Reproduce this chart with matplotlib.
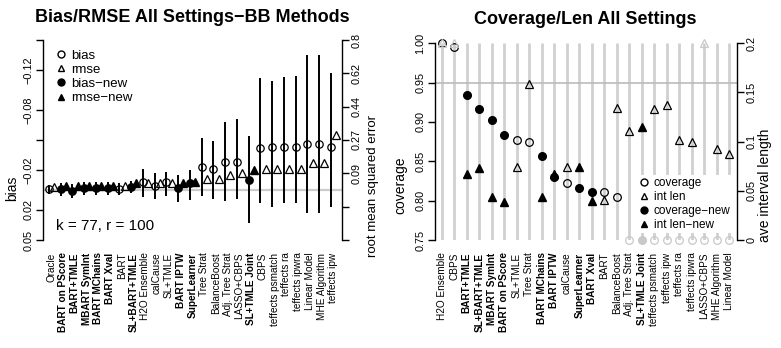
import numpy as np
import matplotlib
matplotlib.use("Agg")
import matplotlib.pyplot as plt

plt.rcParams['font.family'] = ['Liberation Sans', 'DejaVu Sans']
plt.rcParams['axes.unicode_minus'] = True

# ---- bias / rmse per method (left panel)
bb_methods = ["Oracle", "BART on PScore", "BART+TMLE", "MBART SymInt", "BART MChains",
              "BART Xval", "BART", "SL+BART+TMLE", "H2O Ensemble", "calCause", "SL+TMLE",
              "BART IPTW", "SuperLearner", "Tree Strat", "BalanceBoost", "Adj. Tree Strat",
              "LASSO+CBPS", "SL+TMLE Joint", "CBPS", "teffects psmatch", "teffects ra",
              "teffects ipwra", "Linear Model", "MHE Algorithm", "teffects ipw"]
bb_new = [False, True, True, True, True, True, False, True, False, False, False,
          True, True, False, False, False, False, True, False, False, False,
          False, False, False, False]
bias = [-0.0007, -0.0015, 0.0005, -0.0017, -0.0017, -0.0017, -0.0010, -0.0033, -0.0078,
        -0.0038, -0.0078, -0.0020, -0.0070, -0.0230, -0.0208, -0.0278, -0.0278, -0.0100,
        -0.0417, -0.0433, -0.0433, -0.0430, -0.0457, -0.0457, -0.0433]
bias_lo = [-0.0050, -0.0075, -0.0065, -0.0085, -0.0080, -0.0080, -0.0070, -0.0090, -0.0215,
           -0.0173, -0.0183, -0.0150, -0.0205, -0.0522, -0.0493, -0.0683, -0.0710, -0.0537,
           -0.1117, -0.1090, -0.1133, -0.1140, -0.1350, -0.1350, -0.1173]
bias_hi = [0.0040, 0.0055, 0.0080, 0.0050, 0.0050, 0.0050, 0.0050, 0.0030, 0.0067,
           0.0093, 0.0055, 0.0117, 0.0100, 0.0063, 0.0088, 0.0112, 0.0093, 0.0327,
           0.0127, 0.0173, 0.0133, 0.0133, 0.0233, 0.0233, 0.0167]
rmse = [0.0144, 0.0187, 0.0213, 0.0213, 0.0213, 0.0229, 0.0229, 0.0357, 0.0373,
        0.0357, 0.0373, 0.0389, 0.0427, 0.0570, 0.0597, 0.0800, 0.0907, 0.1051,
        0.1120, 0.1120, 0.1120, 0.1120, 0.1420, 0.1420, 0.2930]
bias_ticks = [-0.15, -0.12, -0.08, -0.05, -0.02, 0.02, 0.05]
bias_labels = ["", "−0.12", "−0.08", "", "−0.02", "0.02", "0.05"]

# ---- coverage / interval length per method (right panel)
cov_methods = ["H2O Ensemble", "CBPS", "BART+TMLE", "SL+BART+TMLE", "MBART SymInt",
               "BART on PScore", "SL+TMLE", "Tree Strat", "BART MChains", "BART IPTW",
               "calCause", "SuperLearner", "BART Xval", "BART", "BalanceBoost",
               "Adj. Tree Strat", "SL+TMLE Joint", "teffects psmatch", "teffects ipw",
               "teffects ra", "teffects ipwra", "LASSO+CBPS", "MHE Algorithm", "Linear Model"]
cov_new = [False, False, True, True, True, True, False, False, True, True, False, True,
           True, False, False, False, True, False, False, False, False, False, False, False]
# -inf / inf mark values that fall off the plotted range
coverage = [1.000, 0.995, 0.934, 0.916, 0.9025, 0.884, 0.877, 0.874, 0.857, 0.8305,
            0.823, 0.8165, 0.8106, 0.8106, 0.805, -np.inf, -np.inf, -np.inf, -np.inf,
            -np.inf, -np.inf, -np.inf, -np.inf, -np.inf]
int_len = [np.inf, np.inf, 0.0671, 0.0735, 0.044, 0.039, 0.0746, 0.159, 0.044, 0.067,
           0.0746, 0.0739, 0.0397, 0.0407, 0.134, 0.111, 0.1146, 0.1329, 0.137, 0.1017,
           0.0997, np.inf, 0.0922, 0.0875]

W, H = 781, 348
fig = plt.figure(figsize=(W / 100, H / 100), dpi=100)


def px_axes(x0, y0, x1, y1):
    return fig.add_axes([x0 / W, 1 - y1 / H, (x1 - x0) / W, (y1 - y0) / H])


def style_axis(ax, side):
    for s in ax.spines:
        ax.spines[s].set_visible(s == side)
    ax.spines[side].set_linewidth(1.0)
    ax.tick_params(axis='y', direction='out', length=5, width=1.0, labelsize=7.8,
                   labelrotation=90, pad=2)
    for lab in ax.get_yticklabels():
        lab.set_va('center')


# ================= left panel =================
ax = px_axes(43, 40, 342, 240)
xb = np.arange(1, len(bb_methods) + 1)
ax.set_xlim(0.49, 25.94)
ax.set_ylim(0.05, -0.15)
ax.axhline(0, color='#cccccc', lw=1.6, zorder=0)
ax.vlines(xb, bias_lo, bias_hi, color='black', lw=1.4, zorder=1)
isnew = np.array(bb_new)
ax.plot(xb[~isnew], np.array(bias)[~isnew], 'o', ms=5.3, mfc='none', mec='black', mew=0.9)
ax.plot(xb[isnew], np.array(bias)[isnew], 'o', ms=5.3, mfc='black', mec='black')
ax.set_yticks(bias_ticks)
ax.set_yticklabels(bias_labels)
style_axis(ax, 'left')
ax.set_xticks(xb + 0.2)
ax.set_xticklabels(bb_methods, rotation=90, fontsize=7.2)
ax.tick_params(axis='x', length=0, pad=9)
for lab, n in zip(ax.get_xticklabels(), bb_new):
    lab.set_fontweight('bold' if n else 'normal')
ax.set_ylabel("bias", fontsize=10)
ax.yaxis.set_label_coords(-0.08, 0.26)
ax.text(0.045, 0.05, "k = 77, r = 100", transform=ax.transAxes, fontsize=11)

k = 16 / 3
ax2 = ax.twinx()
ax2.set_ylim(-0.05 * k, 0.15 * k)
rticks = np.linspace(-0.15, 0.05, 7)
ax2.set_yticks(-rticks * k)
ax2.set_yticklabels([f"{round(-t * k, 2):g}" if t < 0 else "" for t in rticks])
style_axis(ax2, 'right')
ax2.plot(xb[~isnew] + 0.43, np.array(rmse)[~isnew], '^', ms=5.3, mfc='none', mec='black', mew=0.9)
ax2.plot(xb[isnew] + 0.43, np.array(rmse)[isnew], '^', ms=5.3, mfc='black', mec='black')
ax2.set_ylabel("root mean squared error", fontsize=9.5)
ax2.yaxis.set_label_coords(1.085, 0.27)

ax.plot([], [], 'o', ms=5, mfc='none', mec='black', label='bias')
ax.plot([], [], '^', ms=5, mfc='none', mec='black', label='rmse')
ax.plot([], [], 'o', ms=5, mfc='black', mec='black', label='bias−new')
ax.plot([], [], '^', ms=5, mfc='black', mec='black', label='rmse−new')
leg_h = ax.get_legend_handles_labels()
ax.legend(leg_h[0][-4:], leg_h[1][-4:], loc='upper left', bbox_to_anchor=(0.02, 0.98),
          frameon=False, fontsize=9.5, handletextpad=0.3, handlelength=1.0,
          labelspacing=0.15, borderaxespad=0)

fig.text(192 / W, 1 - 18 / H, "Bias/RMSE All Settings−BB Methods", ha='center',
         va='center', fontsize=13, fontweight='bold')

# ================= right panel =================
bx = px_axes(435, 43.3, 737, 240)
xc = np.arange(1, len(cov_methods) + 1)
bx.set_xlim(0.46, 24.6)
bx.set_ylim(0.75, 1.0)
bx.vlines(xc, 0.75, 1.0, color='#d0d0d0', lw=2.0, zorder=0)
bx.axhline(0.95, color='#bbbbbb', lw=1.2, zorder=0)
cov = np.array(coverage)
cnew = np.array(cov_new)
cov_in = np.isfinite(cov)
cov_c = np.clip(cov, 0.75, 1.0)
bx.plot(xc[cov_in & ~cnew], cov_c[cov_in & ~cnew], 'o', ms=5.5, mfc='none', mec='black', mew=0.9, clip_on=False)
bx.plot(xc[cov_in & cnew], cov_c[cov_in & cnew], 'o', ms=5.5, mfc='black', mec='black', clip_on=False)
bx.plot(xc[~cov_in & ~cnew], cov_c[~cov_in & ~cnew], 'o', ms=5.5, mfc='none', mec='#c8c8c8', mew=0.9, clip_on=False)
bx.plot(xc[~cov_in & cnew], cov_c[~cov_in & cnew], 'o', ms=5.5, mfc='#c8c8c8', mec='#c8c8c8', clip_on=False)
bx.set_yticks([0.75, 0.80, 0.85, 0.90, 0.95, 1.00])
bx.set_yticklabels(["0.75", "0.80", "0.85", "0.90", "0.95", "1.00"])
style_axis(bx, 'left')
bx.set_xticks(xc)
bx.set_xticklabels(cov_methods, rotation=90, fontsize=7.2)
bx.tick_params(axis='x', length=0, pad=9)
for lab, n in zip(bx.get_xticklabels(), cov_new):
    lab.set_fontweight('bold' if n else 'normal')
bx.set_ylabel("coverage", fontsize=10)
bx.yaxis.set_label_coords(-0.09, 0.28)

bx2 = bx.twinx()
bx2.set_ylim(0, 0.2)
bx2.set_yticks([0, 0.05, 0.1, 0.15, 0.2])
bx2.set_yticklabels(["0", "0.05", "0.1", "0.15", "0.2"])
style_axis(bx2, 'right')
ln = np.array(int_len)
ln_in = np.isfinite(ln)
ln_c = np.clip(ln, 0, 0.2)
bx2.plot(xc[ln_in & ~cnew], ln_c[ln_in & ~cnew], '^', ms=5.5, mfc='none', mec='black', mew=0.9, clip_on=False)
bx2.plot(xc[ln_in & cnew], ln_c[ln_in & cnew], '^', ms=5.5, mfc='black', mec='black', clip_on=False)
bx2.plot(xc[~ln_in], ln_c[~ln_in], '^', ms=5.5, mfc='none', mec='#c8c8c8', mew=0.9, clip_on=False)
bx2.set_ylabel("ave interval length", fontsize=10)
bx2.yaxis.set_label_coords(1.07, 0.28)

hs = [bx2.plot([], [], 'o', ms=5, mfc='none', mec='black')[0],
      bx2.plot([], [], '^', ms=5, mfc='none', mec='black')[0],
      bx2.plot([], [], 'o', ms=5, mfc='black', mec='black')[0],
      bx2.plot([], [], '^', ms=5, mfc='black', mec='black')[0]]
lg = bx2.legend(hs, ["coverage", "int len", "coverage−new", "int len−new"],
                loc='lower left', bbox_to_anchor=(0.665, 0.035), fontsize=8.5,
                frameon=True, fancybox=False, edgecolor='none', facecolor='white',
                framealpha=1, handletextpad=0.3, handlelength=1.0, labelspacing=0.15,
                borderpad=0.2, borderaxespad=0)

fig.text(585 / W, 1 - 20 / H, "Coverage/Len All Settings", ha='center', va='center',
         fontsize=13, fontweight='bold')

fig.savefig("out.png", dpi=100)
